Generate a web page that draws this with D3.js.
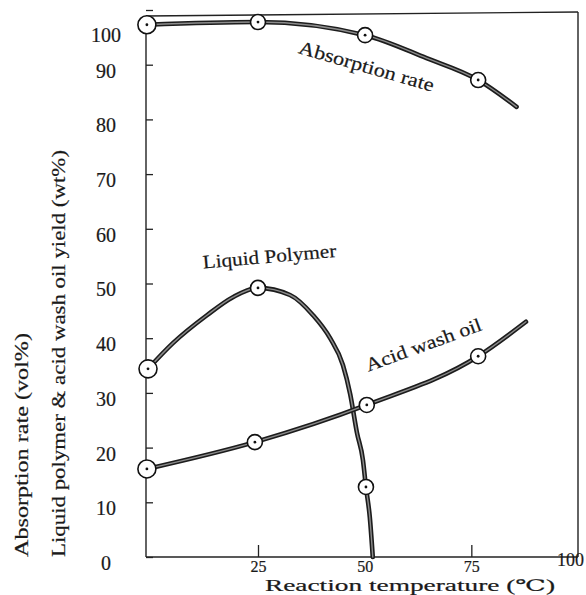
<!DOCTYPE html>
<html>
<head>
<meta charset="utf-8">
<script src="https://cdn.jsdelivr.net/npm/d3@7"></script>
<style>
  body { margin: 0; background: #fff; }
  svg text { font-family: "Liberation Serif", "DejaVu Serif", serif; fill: #1a1a1a; stroke: #1a1a1a; stroke-width: 0.2px; }
</style>
</head>
<body>
<script>
// values (x = reaction temperature in C)
const xTicks = [25, 50, 75, 100];
const yTicks = [0, 10, 20, 30, 40, 50, 60, 70, 80, 90, 100];

// Absorption rate (vol%)
const absorbLineX = [0.2, 25, 50.1, 64.5, 76.6, 85.6];
const absorbLineY = [97.3, 97.8, 95.4, 91.2, 87.2, 82.3];
const absorbPointX = [0.2, 25, 50.1, 76.6];
const absorbPointY = [97.3, 97.8, 95.4, 87.2];

// Liquid polymer yield (wt%)
const polyLineX = [0.45, 6.0, 13.6, 19.4, 25, 32.5, 37.9, 41.9, 44.9, 46.6, 48.2, 49.6, 50.3, 51.2, 51.9];
const polyLineY = [34.4, 39.1, 44.2, 47.5, 49.2, 47.9, 44.2, 40.0, 35.1, 29.8, 22.7, 17.7, 12.8, 7.3, 0];
const polyPointX = [0.45, 25, 50.3];
const polyPointY = [34.4, 49.2, 12.8];

// Acid wash oil yield (wt%)
const acidLineX = [0.2, 24.3, 50.5, 76.6, 87.8];
const acidLineY = [16.1, 21.0, 27.8, 36.7, 43.0];
const acidPointX = [0.2, 24.3, 50.5, 76.6];
const acidPointY = [16.1, 21.0, 27.8, 36.7];

const seriesNames = ['Absorption rate', 'Liquid Polymer', 'Acid wash oil'];

(function() {
  'use strict';

  let svgContainer = '';
  let xScale, yScale;

  window.onload = function() {
    svgContainer = d3.select('body')
      .append('svg')
      .attr('width', 586)
      .attr('height', 595);

    // the scan is slightly stretched, so x uses two segments
    xScale = d3.scaleLinear()
      .domain([0, 25, 100])
      .range([146, 258, 578]);

    yScale = d3.scaleLinear()
      .domain([0, 100])
      .range([557, 10]);

    drawFrame();
    drawTicks();
    makeLabels();

    plotSeries(absorbLineX, absorbLineY, absorbPointX, absorbPointY);
    plotSeries(polyLineX, polyLineY, polyPointX, polyPointY);
    plotSeries(acidLineX, acidLineY, acidPointX, acidPointY);

    drawSeriesNames();
  };

  // box around the plot
  function drawFrame() {
    let left = xScale(0), right = xScale(100);
    let bottom = yScale(0), top = yScale(100) + 4;
    let frame = svgContainer.append('g')
      .attr('stroke', '#222')
      .attr('stroke-width', 1.4)
      .attr('fill', 'none');
    frame.append('line').attr('x1', left).attr('y1', bottom).attr('x2', left).attr('y2', top + 2);
    frame.append('line').attr('x1', left).attr('y1', top + 2).attr('x2', right).attr('y2', top - 2);
    frame.append('line').attr('x1', right).attr('y1', top - 2).attr('x2', right).attr('y2', bottom);
    frame.append('line').attr('x1', left).attr('y1', bottom).attr('x2', right).attr('y2', bottom);
  }

  function drawTicks() {
    let yAxis = d3.axisLeft(yScale)
      .tickValues(yTicks)
      .tickSize(-7)
      .tickPadding(0);

    let yG = svgContainer.append('g')
      .attr('transform', 'translate(' + xScale(0) + ',0)')
      .call(yAxis);
    yG.select('.domain').remove();
    yG.attr('font-family', null).attr('font-size', null);
    yG.selectAll('line').attr('stroke', '#222').attr('stroke-width', 1.3);
    yG.selectAll('text')
      .attr('x', -40)
      .attr('text-anchor', 'middle')
      .attr('dy', d => (d === 100 ? '1.58em' : '0.62em'))
      .style('font-size', '20px');

    let xAxis = d3.axisBottom(xScale)
      .tickValues(xTicks)
      .tickSize(-12)
      .tickPadding(4);

    let xG = svgContainer.append('g')
      .attr('transform', 'translate(0,' + yScale(0) + ')')
      .call(xAxis);
    xG.select('.domain').remove();
    xG.attr('font-family', null).attr('font-size', null);
    xG.selectAll('line').attr('stroke', '#222').attr('stroke-width', 1.3);
    xG.selectAll('.tick').filter(d => d === 50 || d === 100).select('line').remove();
    xG.selectAll('text').style('font-size', '16px');
    xG.selectAll('.tick').filter(d => d === 100).select('text')
      .attr('x', -8)
      .attr('dy', '0.3em')
      .style('font-size', '18px');
  }

  // axis titles
  function makeLabels() {
    svgContainer.append('text')
      .attr('transform', 'translate(28,557)rotate(-90)')
      .attr('textLength', 224)
      .attr('lengthAdjust', 'spacingAndGlyphs')
      .style('font-size', '19px')
      .text('Absorption rate (vol%)');

    svgContainer.append('text')
      .attr('transform', 'translate(65,557)rotate(-90)')
      .attr('textLength', 407)
      .attr('lengthAdjust', 'spacingAndGlyphs')
      .style('font-size', '19px')
      .text('Liquid polymer & acid wash oil yield (wt%)');

    svgContainer.append('text')
      .attr('x', 265)
      .attr('y', 591)
      .attr('textLength', 290)
      .attr('lengthAdjust', 'spacingAndGlyphs')
      .style('font-size', '16px')
      .text('Reaction temperature (\u2103)');
  }

  // thick scanned-looking curve plus open circle markers
  function plotSeries(lineX, lineY, pointX, pointY) {
    let pts = lineX.map((x, i) => [x, lineY[i]]);
    let line = d3.line()
      .x(d => xScale(d[0]))
      .y(d => yScale(d[1]))
      .curve(d3.curveMonotoneX);

    svgContainer.append('path')
      .attr('d', line(pts))
      .attr('fill', 'none')
      .attr('stroke', '#1c1c1c')
      .attr('stroke-width', 4.6)
      .attr('stroke-linecap', 'round');

    svgContainer.append('path')
      .attr('d', line(pts))
      .attr('fill', 'none')
      .attr('stroke', '#8c8c8c')
      .attr('stroke-width', 1.4)
      .attr('stroke-linecap', 'round');

    let marks = pointX.map((x, i) => [x, pointY[i], i]);
    let g = svgContainer.append('g');
    g.selectAll('circle.mark')
      .data(marks)
      .enter()
      .append('circle')
        .attr('class', 'mark')
        .attr('cx', d => xScale(d[0]))
        .attr('cy', d => yScale(d[1]))
        .attr('r', d => (d[2] === 0 ? 9 : 7.5))
        .attr('fill', '#fff')
        .attr('stroke', '#111')
        .attr('stroke-width', 1.6);

    g.selectAll('circle.dot')
      .data(marks)
      .enter()
      .append('circle')
        .attr('class', 'dot')
        .attr('cx', d => xScale(d[0]))
        .attr('cy', d => yScale(d[1]))
        .attr('r', 1.4)
        .attr('fill', '#111');
  }

  // curve names written along the curves
  function drawSeriesNames() {
    let spots = [
      { x: 50.0, y: 88.6, angle: 16, len: 140 },
      { x: 27.8, y: 53.8, angle: -5, len: 134 },
      { x: 64.3, y: 37.7, angle: -20, len: 122 }
    ];
    seriesNames.forEach((name, i) => {
      let s = spots[i];
      svgContainer.append('text')
        .attr('transform', 'translate(' + xScale(s.x) + ',' + yScale(s.y) + ')rotate(' + s.angle + ')')
        .attr('text-anchor', 'middle')
        .attr('textLength', s.len)
        .attr('lengthAdjust', 'spacingAndGlyphs')
        .style('font-size', '19px')
        .text(name);
    });
  }

})();
</script>
</body>
</html>
